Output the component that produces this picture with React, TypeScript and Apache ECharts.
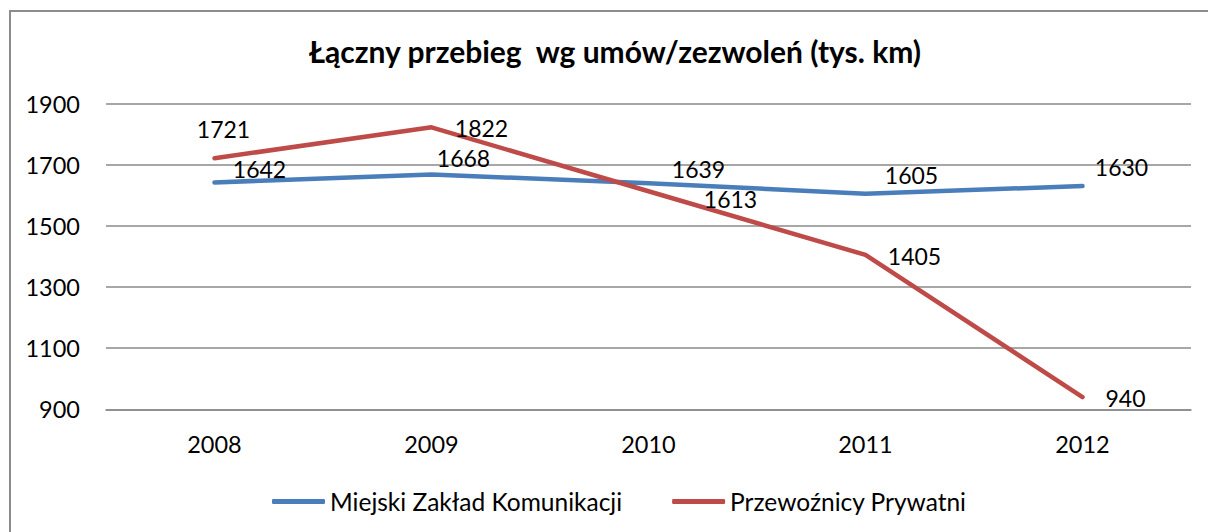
import React, { useEffect, useRef } from "react";
import * as echarts from "echarts";

const titleText = "Łączny przebieg  wg umów/zezwoleń (tys. km)";
const years = ["2008", "2009", "2010", "2011", "2012"];
const seriesNames = ["Miejski Zakład Komunikacji", "Przewoźnicy Prywatni"];
const mzkValues = [1642, 1668, 1639, 1605, 1630];
const privateValues = [1721, 1822, 1613, 1405, 940];
const yTicks = { min: 900, max: 1900, interval: 200 };

const mzkLabelOffsets = [[45, -13], [32, -16], [50, -14], [46, -19], [39, -19]];
const privateLabelOffsets = [[9, -29], [50, 1], [82, 8], [49, 1], [43, 1]];

const FONT = "Lato";
const BLUE = "#4A7EBB";
const RED = "#BE4B48";

function withLabels(values: number[], offsets: number[][]) {
  return values.map((v, i) => ({
    value: v,
    label: { offset: offsets[i] },
  }));
}

export default function App() {
  const ref = useRef<HTMLDivElement>(null);
  useEffect(() => {
    document.documentElement.style.overflow = "hidden";
    document.body.style.margin = "0";
    document.body.style.overflow = "hidden";
    if (!ref.current) return;
    const chart = echarts.init(ref.current, null, { renderer: "svg" });
    const labelBase = {
      show: true,
      position: "inside",
      align: "center",
      verticalAlign: "middle",
      color: "#000",
      fontFamily: FONT,
      fontSize: 23,
    };
    chart.setOption({
      animation: false,
      backgroundColor: "#fff",
      title: {
        text: titleText,
        left: 309,
        top: 36,
        padding: 0,
        textStyle: { fontFamily: FONT, fontWeight: "bold", fontSize: 30, color: "#000" },
      },
      legend: {
        left: 272,
        top: 489,
        padding: 0,
        icon: "roundRect",
        itemWidth: 53,
        itemHeight: 5,
        itemGap: 50,
        textStyle: { fontFamily: FONT, fontSize: 24.5, color: "#000" },
        data: seriesNames,
      },
      grid: { left: 106, right: 17, top: 103.5, bottom: 122.7, containLabel: false },
      xAxis: {
        type: "category",
        data: years,
        boundaryGap: true,
        axisLine: { show: true, lineStyle: { color: "#8a8a8a", width: 1.5 } },
        axisTick: { show: false },
        axisLabel: { color: "#000", fontFamily: FONT, fontSize: 23.5, margin: 23 },
      },
      yAxis: {
        type: "value",
        min: yTicks.min,
        max: yTicks.max,
        interval: yTicks.interval,
        axisLine: { show: false },
        axisTick: { show: false },
        axisLabel: {
          color: "#000",
          fontFamily: FONT,
          fontSize: 23.5,
          margin: 26,
          formatter: (v: number) => String(v),
        },
        splitLine: { lineStyle: { color: "#8a8a8a", width: 1.5 } },
      },
      series: [
        {
          name: seriesNames[0],
          type: "line",
          data: withLabels(mzkValues, mzkLabelOffsets),
          color: BLUE,
          symbol: "circle",
          symbolSize: 2,
          showSymbol: true,
          itemStyle: { color: BLUE },
          lineStyle: { color: BLUE, width: 4.5, cap: "round", join: "round" },
          label: labelBase,
          z: 3,
        },
        {
          name: seriesNames[1],
          type: "line",
          data: withLabels(privateValues, privateLabelOffsets),
          color: RED,
          symbol: "circle",
          symbolSize: 2,
          showSymbol: true,
          itemStyle: { color: RED },
          lineStyle: { color: RED, width: 4.5, cap: "round", join: "round" },
          label: labelBase,
          z: 4,
        },
      ],
    });
    return () => chart.dispose();
  }, []);
  return (
    <div style={{ position: "relative", width: 1208, height: 532, overflow: "hidden" }}>
      <div ref={ref} style={{ position: "absolute", left: 0, top: 0, width: 1208, height: 532 }} />
      <div
        style={{
          position: "absolute",
          left: 9,
          top: 10,
          width: 1300,
          height: 700,
          borderLeft: "2px solid #8c8c8c",
          borderTop: "2px solid #8c8c8c",
          pointerEvents: "none",
        }}
      />
    </div>
  );
}
